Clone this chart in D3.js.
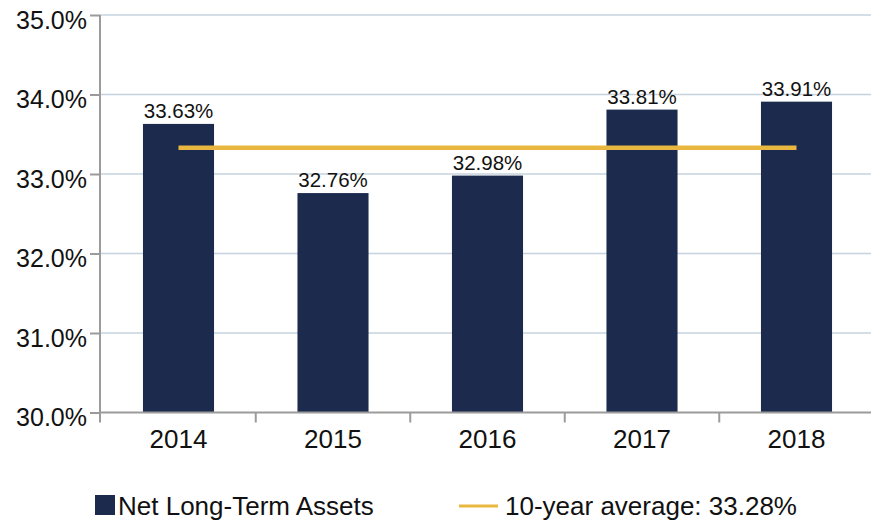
<!DOCTYPE html>
<html>
<head>
<meta charset="utf-8">
<script src="https://cdn.jsdelivr.net/npm/d3@7"></script>
<style>
  html, body { margin: 0; padding: 0; background: #fff; }
  svg { display: block; font-family: "Liberation Sans", Arial, Helvetica, sans-serif; }
</style>
</head>
<body>
<svg id="chart" width="871" height="523"></svg>
<script>
// data
const years = ["2014", "2015", "2016", "2017", "2018"];
const netLongTermAssets = [33.63, 32.76, 32.98, 33.81, 33.91];
const averageLevel = 33.33; // where the gold line sits in the picture
const averageLabel = "10-year average: 33.28%";
const yTicks = [30, 31, 32, 33, 34, 35];

const barColor = "#1b2a4d";
const avgColor = "#e9b73f";
const gridColor = "#c6d3de";
const axisColor = "#9b9b9b";

const svg = d3.select("#chart");
const width = 871;

const plot = { left: 100, top: 15, bottom: 412.5, right: 873.75 };

const x = d3
  .scaleBand()
  .domain(years)
  .range([101.25, plot.right])
  .paddingInner(0.54)
  .paddingOuter(0.27);

const y = d3.scaleLinear().domain([30, 35]).range([plot.bottom, plot.top]);

// horizontal grid
svg
  .append("g")
  .selectAll("line")
  .data(yTicks.filter((d) => d > 30))
  .join("line")
  .attr("x1", plot.left)
  .attr("x2", width)
  .attr("y1", (d) => y(d))
  .attr("y2", (d) => y(d))
  .attr("stroke", gridColor)
  .attr("stroke-width", 1.5);

// bars
svg
  .append("g")
  .selectAll("rect")
  .data(netLongTermAssets)
  .join("rect")
  .attr("x", (d, i) => x(years[i]))
  .attr("width", x.bandwidth())
  .attr("y", (d) => y(d))
  .attr("height", (d) => y(30) - y(d))
  .attr("fill", barColor);

// value labels
svg
  .append("g")
  .selectAll("text")
  .data(netLongTermAssets)
  .join("text")
  .attr("x", (d, i) => x(years[i]) + x.bandwidth() / 2)
  .attr("y", (d) => y(d) - 6)
  .attr("text-anchor", "middle")
  .style("font-size", "20.5px")
  .style("fill", "#111")
  .text((d) => d.toFixed(2) + "%");

// average line, centre of first bar to centre of last bar
const half = x.bandwidth() / 2;
svg
  .append("line")
  .attr("x1", x(years[0]) + half)
  .attr("x2", x(years[years.length - 1]) + half)
  .attr("y1", y(averageLevel))
  .attr("y2", y(averageLevel))
  .attr("stroke", avgColor)
  .attr("stroke-width", 4.5);

// y axis
const yAxis = svg
  .append("g")
  .attr("transform", `translate(${plot.left},0)`)
  .call(
    d3
      .axisLeft(y)
      .tickValues(yTicks)
      .tickSize(10)
      .tickSizeOuter(0)
      .tickFormat((d) => d.toFixed(1) + "%")
  );
yAxis.select(".domain").remove();
yAxis.selectAll(".tick line").attr("stroke", axisColor).attr("stroke-width", 2);
yAxis
  .selectAll(".tick text")
  .attr("x", -13)
  .attr("dy", "0.52em")
  .style("font-size", "25px")
  .style("font-family", "'Liberation Sans', Arial, sans-serif")
  .style("fill", "#111");

svg
  .append("line")
  .attr("x1", plot.left)
  .attr("x2", plot.left)
  .attr("y1", plot.top)
  .attr("y2", plot.bottom + 10)
  .attr("stroke", axisColor)
  .attr("stroke-width", 2);

// x axis
svg
  .append("line")
  .attr("x1", plot.left)
  .attr("x2", width)
  .attr("y1", plot.bottom)
  .attr("y2", plot.bottom)
  .attr("stroke", axisColor)
  .attr("stroke-width", 2);

// ticks between categories
svg
  .append("g")
  .selectAll("line")
  .data(years.slice(1))
  .join("line")
  .attr("x1", (d) => x(d) - (x.step() * x.paddingInner()) / 2)
  .attr("x2", (d) => x(d) - (x.step() * x.paddingInner()) / 2)
  .attr("y1", plot.bottom)
  .attr("y2", plot.bottom + 10)
  .attr("stroke", axisColor)
  .attr("stroke-width", 2);

svg
  .append("g")
  .selectAll("text")
  .data(years)
  .join("text")
  .attr("x", (d) => x(d) + half)
  .attr("y", plot.bottom + 35.5)
  .attr("text-anchor", "middle")
  .style("font-size", "26px")
  .style("fill", "#111")
  .text((d) => d);

// legend
const legend = svg.append("g");
legend
  .append("rect")
  .attr("x", 95)
  .attr("y", 495)
  .attr("width", 20)
  .attr("height", 20)
  .attr("fill", barColor);
legend
  .append("text")
  .attr("x", 118)
  .attr("y", 515)
  .style("font-size", "26px")
  .style("fill", "#111")
  .text("Net Long-Term Assets");
legend
  .append("line")
  .attr("x1", 459)
  .attr("x2", 498)
  .attr("y1", 506)
  .attr("y2", 506)
  .attr("stroke", avgColor)
  .attr("stroke-width", 3);
legend
  .append("text")
  .attr("x", 505)
  .attr("y", 515)
  .style("font-size", "26px")
  .style("fill", "#111")
  .text(averageLabel);
</script>
</body>
</html>
